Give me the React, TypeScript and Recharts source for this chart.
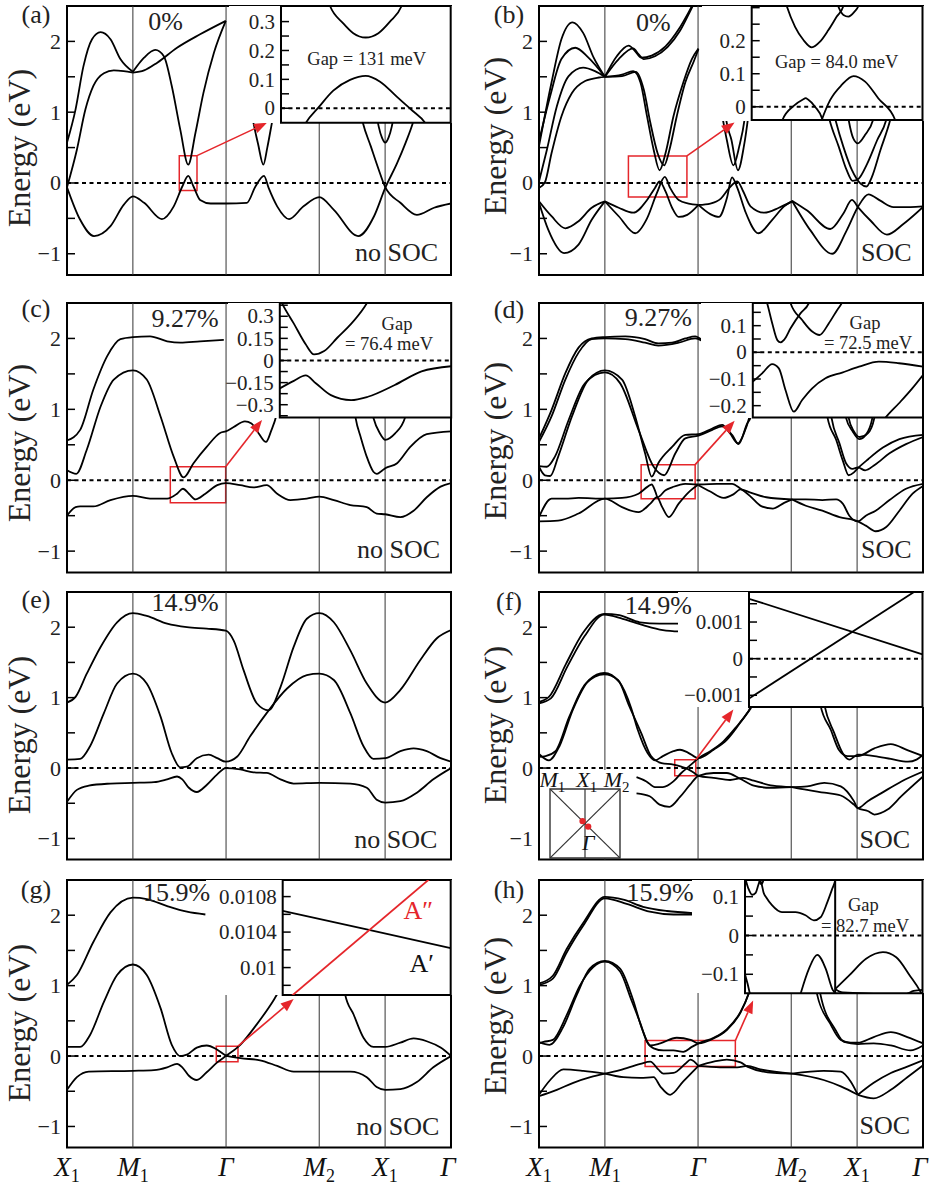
import React from 'react';
import { LineChart, Line, XAxis, YAxis, ReferenceLine, ReferenceArea, ReferenceDot } from 'recharts';

type Pt = [number, number];

const SERIF = '"Liberation Serif", "Times New Roman", "DejaVu Serif", serif';
const RED = '#e5262b';

// ---------- k-path and energy axes ----------
const K_TICKS = [0, 1, 2.414, 3.828, 4.828, 5.828];
const K_NAMES = ['X', 'M', 'Γ', 'M', 'X', 'Γ'];
const K_SUBS = ['1', '1', '', '2', '1', ''];
const SYM_K = [1, 2.414, 3.828, 4.828];
const K_MAX = 5.828;
const E_MIN = -1.3;
const E_MAX = 2.5;
const E_TICKS = [-1, -0.5, 0, 0.5, 1, 1.5, 2];
const E_LABELS = ['−1', '', '0', '', '1', '', '2'];

// ---------- (a) 0 %, no SOC ----------
const A_VB1: Pt[] = [[0,-0.06],[0.2,-0.52],[0.41,-0.75],[0.66,-0.61],[0.86,-0.31],[1.0,-0.19],[1.17,-0.28],[1.44,-0.51],[1.62,-0.33],[1.75,-0.05],[1.84,0.10],[1.92,-0.05],[2.02,-0.24],[2.18,-0.29],[2.41,-0.29],[2.73,-0.28],[2.86,-0.05],[2.99,0.10],[3.06,-0.07],[3.19,-0.33],[3.37,-0.51],[3.59,-0.33],[3.83,-0.20],[4.05,-0.38],[4.42,-0.75],[4.66,-0.47],[4.83,-0.07],[5.01,0.28],[5.14,0.57],[5.25,0.85],[5.31,1.05]];
const A_VB2: Pt[] = [[4.43,1.1],[4.49,0.85],[4.61,0.52],[4.73,0.19],[4.83,-0.06],[5.06,-0.28],[5.31,-0.45],[5.57,-0.35],[5.83,-0.29]];
const A_CB1: Pt[] = [[0,0.57],[0.13,1.04],[0.25,1.65],[0.38,2.03],[0.51,2.13],[0.66,2.03],[0.81,1.75],[1.0,1.57]];
const A_CB2: Pt[] = [[0,-0.06],[0.15,0.47],[0.28,1.04],[0.40,1.37],[0.56,1.55],[0.71,1.59],[0.86,1.58],[1.0,1.56]];
const A_CB3: Pt[] = [[1.0,1.57],[1.17,1.77],[1.34,1.88],[1.47,1.79],[1.59,1.37],[1.72,0.75],[1.84,0.26],[1.95,0.71],[2.07,1.27],[2.23,1.84],[2.41,2.29]];
const A_CB4: Pt[] = [[1.0,1.56],[1.17,1.59],[1.37,1.70],[1.67,1.91],[2.02,2.10],[2.41,2.29]];
const A_CB5: Pt[] = [[2.80,1.0],[2.83,0.85],[2.90,0.55],[2.98,0.26],[3.04,0.5],[3.11,0.85],[3.14,1.0]];
const A_CB6: Pt[] = [[4.69,1.0],[4.73,0.8],[4.78,0.64],[4.83,0.57],[4.88,0.64],[4.93,0.8],[4.97,1.0]];
const AI_CB: Pt[] = [[0.27,0.385],[0.289,0.354],[0.367,0.294],[0.426,0.26],[0.499,0.245],[0.574,0.26],[0.642,0.30],[0.711,0.354],[0.73,0.385]];
const AI_VB: Pt[] = [[0.12,-0.08],[0.147,-0.05],[0.22,0.002],[0.308,0.061],[0.407,0.098],[0.499,0.112],[0.584,0.092],[0.682,0.04],[0.770,-0.006],[0.849,-0.05],[0.88,-0.08]];
const AI_TICKS = [0, 0.05, 0.1, 0.15, 0.2, 0.25, 0.3];
const AI_LABELS = ['0', '', '0.1', '', '0.2', '', '0.3'];

// ---------- (b) 0 %, SOC ----------
const B_VB1: Pt[] = [[0,-0.26],[0.19,-0.47],[0.40,-0.64],[0.60,-0.54],[0.80,-0.35],[1.0,-0.26]];
const B_VB2: Pt[] = [[0,-0.28],[0.14,-0.66],[0.38,-0.99],[0.60,-0.87],[0.80,-0.52],[1.0,-0.26]];
const B_VB3: Pt[] = [[1.0,-0.26],[1.21,-0.35],[1.43,-0.42],[1.64,-0.24],[1.76,-0.07],[1.83,0.024],[1.92,-0.12],[2.02,-0.35],[2.12,-0.48],[2.25,-0.45],[2.42,-0.31]];
const B_VB4: Pt[] = [[1.0,-0.26],[1.21,-0.47],[1.46,-0.71],[1.64,-0.50],[1.79,-0.14],[1.91,0.085],[1.99,-0.07],[2.12,-0.24],[2.27,-0.29],[2.42,-0.31]];
const B_VB5: Pt[] = [[2.42,-0.31],[2.60,-0.44],[2.73,-0.48],[2.85,-0.22],[2.93,0.08],[3.01,-0.07],[3.13,-0.40],[3.33,-0.71],[3.54,-0.52],[3.72,-0.33],[3.84,-0.26]];
const B_VB6: Pt[] = [[2.42,-0.31],[2.60,-0.29],[2.76,-0.22],[2.88,-0.08],[3.01,0.024],[3.10,-0.12],[3.21,-0.33],[3.42,-0.42],[3.64,-0.35],[3.84,-0.26]];
const B_VB7: Pt[] = [[3.84,-0.25],[4.07,-0.39],[4.42,-0.65],[4.62,-0.43],[4.75,-0.24],[4.84,-0.34],[5.03,-0.53],[5.28,-0.73],[5.53,-0.58],[5.84,-0.33]];
const B_VB8: Pt[] = [[3.84,-0.25],[4.12,-0.67],[4.45,-1.0],[4.67,-0.67],[4.84,-0.34],[5.0,-0.16],[5.18,-0.25],[5.38,-0.34],[5.64,-0.34],[5.84,-0.33]];
const B_CB1: Pt[] = [[0,0.52],[0.19,1.42],[0.34,2.03],[0.51,2.27],[0.67,2.12],[0.83,1.77],[1.0,1.50]];
const B_CB2: Pt[] = [[0,0.59],[0.17,1.23],[0.34,1.75],[0.55,1.91],[0.75,1.77],[1.0,1.50]];
const B_CB3: Pt[] = [[0,0.02],[0.12,0.47],[0.27,1.08],[0.45,1.51],[0.67,1.63],[0.85,1.58],[1.0,1.50]];
const B_CB4: Pt[] = [[0,-0.07],[0.09,0.01],[0.19,0.42],[0.34,0.94],[0.50,1.27],[0.70,1.44],[0.91,1.49],[1.0,1.50]];
const B_CB5: Pt[] = [[1.0,1.50],[1.18,1.79],[1.36,1.94],[1.46,1.86],[1.55,1.77],[1.71,1.80],[1.92,1.93],[2.12,2.17],[2.27,2.41],[2.35,2.55]];
const B_CB6: Pt[] = [[1.0,1.50],[1.21,1.75],[1.43,1.90],[1.51,1.82],[1.59,1.75],[1.76,1.79],[1.95,1.92],[2.14,2.15],[2.28,2.40],[2.36,2.55]];
const B_CB7: Pt[] = [[1.0,1.50],[1.26,1.53],[1.43,1.58],[1.54,1.42],[1.64,0.94],[1.74,0.47],[1.83,0.18],[1.92,0.42],[2.04,0.94],[2.19,1.42],[2.32,1.75],[2.42,1.90]];
const B_CB8: Pt[] = [[1.0,1.50],[1.26,1.51],[1.47,1.57],[1.59,1.32],[1.69,0.85],[1.80,0.42],[1.90,0.25],[1.98,0.47],[2.09,0.94],[2.22,1.42],[2.35,1.72],[2.42,1.89]];
const B_CB9: Pt[] = [[2.76,1.05],[2.79,0.90],[2.85,0.61],[2.95,0.25],[3.04,0.52],[3.12,0.90],[3.14,1.05]];
const B_CB10: Pt[] = [[2.82,1.05],[2.84,0.90],[2.92,0.61],[3.02,0.18],[3.11,0.52],[3.17,0.90],[3.19,1.05]];
const B_X1: Pt[] = [[4.38,1.0],[4.41,0.89],[4.55,0.51],[4.67,0.18],[4.76,0.03],[4.85,0.06],[4.98,0.27],[5.13,0.6],[5.27,0.89],[5.30,1.0]];
const B_X2: Pt[] = [[4.47,1.0],[4.50,0.89],[4.62,0.51],[4.75,0.18],[4.88,-0.01],[4.97,-0.05],[5.05,0.08],[5.18,0.46],[5.33,0.89],[5.36,1.0]];
const B_X3: Pt[] = [[4.68,1.0],[4.70,0.89],[4.77,0.63],[4.84,0.56],[4.95,0.68],[5.07,0.89],[5.10,1.0]];
const BI_CB1: Pt[] = [[0.19,0.33],[0.205,0.305],[0.254,0.242],[0.303,0.202],[0.352,0.18],[0.40,0.197],[0.449,0.232],[0.498,0.273],[0.537,0.305],[0.55,0.33]];
const BI_CB2: Pt[] = [[0.49,0.33],[0.51,0.3],[0.537,0.278],[0.566,0.273],[0.602,0.288],[0.625,0.305],[0.64,0.33]];
const BI_VB1: Pt[] = [[0.16,-0.07],[0.18,-0.04],[0.244,0.002],[0.30,0.022],[0.316,0.026],[0.33,0.022],[0.371,0.0],[0.414,-0.038],[0.43,-0.07]];
const BI_VB2: Pt[] = [[0.39,-0.07],[0.41,-0.04],[0.459,0.02],[0.527,0.066],[0.596,0.093],[0.664,0.076],[0.742,0.025],[0.84,-0.04],[0.86,-0.07]];
const BI_TICKS = [0, 0.05, 0.1, 0.15, 0.2, 0.25, 0.3];
const BI_LABELS = ['0', '', '0.1', '', '0.2', '', ''];

// ---------- (c) 9.27 %, no SOC ----------
const C_VB: Pt[] = [[0,-0.50],[0.13,-0.38],[0.20,-0.37],[0.40,-0.37],[0.66,-0.28],[1.0,-0.22],[1.26,-0.26],[1.52,-0.26],[1.67,-0.19],[1.76,-0.12],[1.85,-0.19],[1.95,-0.27],[2.10,-0.19],[2.28,-0.07],[2.41,-0.04],[2.63,-0.07],[2.83,-0.10],[3.03,-0.07],[3.19,-0.19],[3.39,-0.28],[3.64,-0.26],[3.83,-0.23],[4.05,-0.28],[4.30,-0.35],[4.55,-0.38],[4.70,-0.47],[4.83,-0.48],[5.06,-0.52],[5.26,-0.43],[5.46,-0.24],[5.67,-0.09],[5.83,-0.04]];
const C_CB1: Pt[] = [[0,0.14],[0.14,0.09],[0.30,0.43],[0.51,1.04],[0.71,1.42],[1.0,1.55],[1.21,1.42],[1.42,0.90],[1.62,0.33],[1.77,0.04],[1.92,0.24],[2.12,0.47],[2.33,0.67],[2.41,0.69],[2.53,0.75],[2.70,0.83],[2.80,0.80],[2.91,0.66],[3.02,0.54],[3.10,0.70],[3.18,0.92],[3.2,1.0]];
const C_CB2: Pt[] = [[0,0.56],[0.20,0.71],[0.40,1.28],[0.61,1.75],[0.81,1.99],[1.0,2.02],[1.26,2.03],[1.52,1.96],[1.72,1.94],[2.02,1.96],[2.38,1.98]];
const C_X1: Pt[] = [[4.36,1.0],[4.38,0.88],[4.46,0.6],[4.55,0.33],[4.65,0.12],[4.70,0.09],[4.76,0.12],[4.83,0.17],[5.01,0.24],[5.21,0.47],[5.46,0.65],[5.83,0.69]];
const C_U: Pt[] = [[4.62,1.0],[4.65,0.88],[4.75,0.66],[4.83,0.57],[4.98,0.66],[5.13,0.88],[5.16,1.0]];
const CI_CB: Pt[] = [[0,0.42],[0.014,0.386],[0.082,0.25],[0.151,0.11],[0.2,0.041],[0.259,0.064],[0.337,0.156],[0.416,0.248],[0.494,0.363],[0.514,0.40]];
const CI_VB: Pt[] = [[0,-0.189],[0.082,-0.138],[0.151,-0.101],[0.21,-0.154],[0.298,-0.235],[0.416,-0.269],[0.514,-0.246],[0.671,-0.166],[0.827,-0.074],[1.0,-0.039]];
const CI_TICKS = [-0.375, -0.3, -0.225, -0.15, -0.075, 0, 0.075, 0.15, 0.225, 0.3, 0.375];
const CI_LABELS = ['', '−0.3', '', '−0.15', '', '0', '', '0.15', '', '0.3', ''];

// ---------- (d) 9.27 %, SOC ----------
const D_VB1: Pt[] = [[0,-0.52],[0.19,-0.26],[0.40,-0.26],[0.60,-0.25],[1.0,-0.26],[1.26,-0.25],[1.51,-0.19],[1.65,-0.09],[1.71,-0.06],[1.77,-0.17],[1.80,-0.24],[1.92,-0.14],[2.02,-0.10],[2.22,-0.05],[2.42,-0.06]];
const D_VB2: Pt[] = [[0,-0.58],[0.29,-0.57],[0.60,-0.47],[1.0,-0.26],[1.26,-0.38],[1.51,-0.45],[1.69,-0.33],[1.79,-0.24],[1.87,-0.38],[1.97,-0.52],[2.12,-0.33],[2.27,-0.17],[2.42,-0.06]];
const D_VB3: Pt[] = [[2.42,-0.06],[2.7,-0.05],[2.93,-0.05],[3.06,-0.12],[3.2,-0.22],[3.38,-0.37],[3.55,-0.40],[3.72,-0.32],[3.84,-0.27]];
const D_VB4: Pt[] = [[2.42,-0.07],[2.6,-0.16],[2.8,-0.25],[2.95,-0.2],[3.06,-0.13],[3.2,-0.17],[3.45,-0.24],[3.84,-0.27]];
const D_VB5: Pt[] = [[3.84,-0.27],[4.05,-0.27],[4.30,-0.28],[4.51,-0.27],[4.61,-0.33],[4.71,-0.50],[4.84,-0.58],[4.96,-0.50],[5.11,-0.43],[5.32,-0.28],[5.57,-0.12],[5.83,-0.05]];
const D_VB6: Pt[] = [[3.84,-0.27],[4.05,-0.36],[4.30,-0.43],[4.56,-0.52],[4.84,-0.58],[4.96,-0.64],[5.11,-0.72],[5.27,-0.66],[5.47,-0.43],[5.67,-0.19],[5.83,-0.08]];
const D_CB1: Pt[] = [[0,0.19],[0.09,0.07],[0.17,0.06],[0.29,0.33],[0.50,0.90],[0.75,1.42],[1.0,1.55],[1.26,1.42],[1.46,0.90],[1.61,0.38],[1.71,0.05],[1.81,0.24],[2.02,0.47],[2.22,0.64],[2.42,0.65],[2.63,0.73],[2.78,0.78],[2.90,0.66],[3.02,0.52],[3.11,0.66],[3.19,0.88],[3.22,1.0]];
const D_CB2: Pt[] = [[0,0.20],[0.12,0.19],[0.24,0.33],[0.45,0.85],[0.70,1.37],[1.0,1.52],[1.23,1.37],[1.51,0.71],[1.74,0.19],[1.90,0.07],[2.07,0.38],[2.22,0.59],[2.42,0.63],[2.63,0.71],[2.78,0.76],[2.93,0.64],[3.03,0.51],[3.16,0.80],[3.21,0.88],[3.24,1.0]];
const D_CB3: Pt[] = [[0,0.59],[0.19,0.99],[0.40,1.51],[0.60,1.87],[0.80,2.0],[1.0,2.02],[1.31,2.03],[1.61,1.99],[1.81,1.93],[2.02,1.94],[2.22,2.0],[2.37,2.03],[2.47,1.98]];
const D_CB4: Pt[] = [[0,0.54],[0.19,0.90],[0.40,1.42],[0.60,1.80],[0.80,1.99],[1.0,2.0],[1.31,1.99],[1.61,1.94],[1.81,1.90],[2.12,1.94],[2.37,2.0],[2.47,1.97]];
const D_X1: Pt[] = [[4.36,1.0],[4.38,0.88],[4.51,0.57],[4.61,0.28],[4.70,0.07],[4.78,0.11],[4.84,0.17],[5.0,0.30],[5.22,0.46],[5.47,0.58],[5.83,0.64]];
const D_X2: Pt[] = [[4.42,1.0],[4.44,0.88],[4.56,0.52],[4.66,0.24],[4.76,0.16],[4.84,0.18],[4.95,0.14],[5.10,0.22],[5.32,0.38],[5.57,0.51],[5.83,0.61]];
const D_XU1: Pt[] = [[4.64,1.0],[4.66,0.88],[4.76,0.69],[4.86,0.58],[4.96,0.64],[5.06,0.88],[5.08,1.0]];
const D_XU2: Pt[] = [[4.68,1.0],[4.70,0.88],[4.78,0.69],[4.87,0.61],[4.99,0.66],[5.09,0.88],[5.11,1.0]];
const DI_CB1: Pt[] = [[0.07,0.21],[0.084,0.184],[0.114,0.109],[0.145,0.045],[0.163,0.0375],[0.185,0.048],[0.222,0.09],[0.28,0.146],[0.329,0.184],[0.345,0.21]];
const DI_CB2: Pt[] = [[0.21,0.21],[0.222,0.184],[0.29,0.121],[0.349,0.078],[0.392,0.065],[0.447,0.109],[0.496,0.159],[0.522,0.184],[0.54,0.21]];
const DI_VB1: Pt[] = [[0,-0.11],[0.055,-0.079],[0.114,-0.044],[0.153,-0.06],[0.192,-0.141],[0.241,-0.2225],[0.29,-0.179],[0.349,-0.135],[0.427,-0.0975],[0.525,-0.076],[0.624,-0.054],[0.741,-0.035],[0.859,-0.041],[1.0,-0.054]];
const DI_VB2: Pt[] = [[0.74,-0.28],[0.78,-0.245],[0.859,-0.191],[0.937,-0.135],[1.0,-0.085]];
const DI_TICKS = [-0.2, -0.15, -0.1, -0.05, 0, 0.05, 0.1, 0.15];
const DI_LABELS = ['−0.2', '', '−0.1', '', '0', '', '0.1', ''];

// ---------- (e) 14.9 %, no SOC ----------
const E_VB: Pt[] = [[0,-0.48],[0.15,-0.31],[0.33,-0.25],[0.66,-0.22],[1.0,-0.21],[1.32,-0.20],[1.52,-0.16],[1.67,-0.12],[1.75,-0.16],[1.85,-0.28],[1.97,-0.34],[2.12,-0.24],[2.28,-0.09],[2.41,0.0],[2.63,-0.02],[2.83,-0.06],[3.03,-0.07],[3.24,-0.16],[3.44,-0.22],[3.83,-0.21],[4.30,-0.22],[4.55,-0.28],[4.70,-0.45],[4.83,-0.49],[5.06,-0.47],[5.31,-0.35],[5.56,-0.16],[5.83,0.0]];
const E_CB1: Pt[] = [[0,0.12],[0.20,0.13],[0.35,0.31],[0.56,0.78],[0.76,1.20],[1.0,1.34],[1.21,1.20],[1.42,0.73],[1.59,0.21],[1.72,0.01],[1.82,0.02],[1.97,0.14],[2.15,0.19],[2.28,0.14],[2.41,0.09],[2.58,0.16],[2.78,0.45],[3.03,0.78],[3.34,1.13],[3.64,1.32],[3.83,1.34],[4.05,1.25],[4.30,0.78],[4.50,0.31],[4.65,0.13],[4.83,0.14],[5.06,0.24],[5.26,0.28],[5.46,0.24],[5.67,0.14],[5.83,0.09]];
const E_CB2: Pt[] = [[0,0.93],[0.13,1.01],[0.30,1.34],[0.51,1.72],[0.76,2.07],[1.0,2.20],[1.21,2.16],[1.52,2.05],[1.82,2.0],[2.12,1.98],[2.41,1.95],[2.53,1.81],[2.68,1.39],[2.88,0.92],[3.06,0.82],[3.24,1.15],[3.44,1.72],[3.64,2.12],[3.83,2.20],[4.05,2.07],[4.30,1.67],[4.55,1.20],[4.83,0.93],[5.06,1.11],[5.36,1.53],[5.61,1.84],[5.83,1.96]];

// ---------- (f) 14.9 %, SOC ----------
const F_UB1: Pt[] = [[0,0.94],[0.15,1.01],[0.41,1.48],[0.66,1.91],[0.99,2.19],[1.22,2.17],[1.53,2.07],[1.83,2.05],[2.14,2.05]];
const F_UB2: Pt[] = [[0,0.92],[0.18,0.99],[0.43,1.44],[0.69,1.87],[0.99,2.18],[1.27,2.12],[1.58,2.03],[1.88,1.96],[2.14,1.94]];
const F_CB1: Pt[] = [[0,0.20],[0.15,0.11],[0.31,0.31],[0.51,0.82],[0.76,1.25],[0.99,1.35],[1.22,1.22],[1.40,0.85],[1.50,0.54],[1.65,0.21],[1.76,0.11],[1.88,0.17],[2.04,0.24],[2.14,0.26],[2.26,0.22],[2.42,0.14],[2.65,0.26],[2.85,0.40],[3.05,0.64],[3.23,0.90],[3.27,1.0]];
const F_CB2: Pt[] = [[0,0.16],[0.10,0.17],[0.25,0.24],[0.46,0.73],[0.71,1.20],[0.99,1.33],[1.20,1.25],[1.36,0.90],[1.55,0.50],[1.70,0.17],[1.86,0.07],[2.04,0.05],[2.16,0.02],[2.24,-0.005],[2.34,-0.06],[2.42,-0.11],[2.65,-0.14],[2.90,-0.17],[3.10,-0.14],[3.26,-0.18],[3.55,-0.25],[3.84,-0.27]];
const F_VB1: Pt[] = [[1.48,-0.13],[1.63,-0.19],[1.76,-0.27],[1.88,-0.27],[2.04,-0.19],[2.16,-0.07],[2.24,-0.005],[2.32,0.06],[2.42,0.14],[2.60,0.24],[2.80,0.38],[3.00,0.59],[3.16,0.78],[3.23,0.88],[3.27,1.0]];
const F_VB2: Pt[] = [[1.48,-0.36],[1.68,-0.40],[1.83,-0.52],[1.98,-0.55],[2.14,-0.41],[2.29,-0.24],[2.42,-0.11],[2.65,-0.07],[2.85,-0.07],[3.05,-0.15],[3.26,-0.25],[3.51,-0.28],[3.84,-0.27]];
const F_VB3: Pt[] = [[3.84,-0.27],[4.07,-0.31],[4.33,-0.35],[4.58,-0.39],[4.78,-0.52],[4.84,-0.57],[4.99,-0.61],[5.09,-0.66],[5.29,-0.59],[5.50,-0.40],[5.83,-0.12]];
const F_VB4: Pt[] = [[3.84,-0.27],[4.07,-0.26],[4.33,-0.21],[4.58,-0.26],[4.78,-0.47],[4.84,-0.57],[4.99,-0.47],[5.19,-0.36],[5.50,-0.19],[5.83,-0.05]];
const F_X1: Pt[] = [[4.25,1.0],[4.27,0.90],[4.43,0.54],[4.55,0.26],[4.68,0.17],[4.84,0.17],[5.09,0.28],[5.34,0.34],[5.60,0.25],[5.83,0.17]];
const F_X2: Pt[] = [[4.31,1.0],[4.33,0.90],[4.48,0.50],[4.61,0.21],[4.71,0.12],[4.84,0.19],[5.09,0.17],[5.34,0.13],[5.60,0.09],[5.73,0.12],[5.83,0.19]];
const FI_L1: Pt[] = [[0,0.001636],[1,0.000118]];
const FI_L2: Pt[] = [[0,-0.00109],[0.951,0.00182]];
const FI_TICKS = [-0.001, -0.0005, 0, 0.0005, 0.001, 0.0015];
const FI_LABELS = ['−0.001', '', '0', '', '0.001', ''];
const BZ_DIAG1: Pt[] = [[-1,-1],[1,1]];
const BZ_DIAG2: Pt[] = [[-1,1],[1,-1]];
const BZ_DOTS: Pt[] = [[-0.07,0.07],[0.09,-0.09]];

// ---------- (g) 15.9 %, no SOC ----------
const G_VB: Pt[] = [[0,-0.48],[0.15,-0.30],[0.33,-0.22],[1.0,-0.21],[1.32,-0.20],[1.52,-0.16],[1.67,-0.11],[1.75,-0.16],[1.85,-0.28],[1.97,-0.34],[2.12,-0.23],[2.28,-0.09],[2.41,0.0],[2.63,0.16],[2.88,0.45],[3.14,0.80],[3.24,0.96]];
const G_CB1: Pt[] = [[0,0.13],[0.20,0.13],[0.35,0.30],[0.56,0.77],[0.76,1.15],[1.0,1.30],[1.21,1.15],[1.42,0.68],[1.59,0.16],[1.72,0.0],[1.82,0.02],[1.97,0.12],[2.12,0.15],[2.28,0.09],[2.41,0.01],[2.63,-0.03],[2.93,-0.06],[3.19,-0.14],[3.44,-0.22],[3.83,-0.22],[4.30,-0.22],[4.55,-0.30],[4.70,-0.44],[4.83,-0.48],[5.06,-0.47],[5.31,-0.37],[5.56,-0.16],[5.83,0.0]];
const G_CB2: Pt[] = [[0,1.01],[0.15,1.15],[0.40,1.62],[0.66,2.04],[1.0,2.25],[1.21,2.23],[1.52,2.13],[1.82,2.05],[2.10,2.01]];
const G_X: Pt[] = [[4.20,1.0],[4.22,0.88],[4.35,0.59],[4.50,0.26],[4.65,0.13],[4.83,0.13],[5.06,0.19],[5.26,0.25],[5.46,0.21],[5.67,0.12],[5.83,0.0]];
const GI_A1: Pt[] = [[0,0.01064],[0.5,0.01043],[1,0.01022]];
const GI_A2: Pt[] = [[0.05,0.009675],[0.9,0.01104]];
const GI_TICKS = [0.0098, 0.01, 0.0102, 0.0104, 0.0106, 0.0108];
const GI_LABELS = ['', '0.01', '', '0.0104', '', '0.0108'];

// ---------- (h) 15.9 %, SOC ----------
const H_UB1: Pt[] = [[0,1.03],[0.21,1.14],[0.42,1.52],[0.67,1.89],[1.0,2.26],[1.28,2.22],[1.58,2.12],[1.94,2.06],[2.34,2.03]];
const H_UB2: Pt[] = [[0,1.01],[0.21,1.10],[0.42,1.47],[0.67,1.85],[1.0,2.24],[1.33,2.16],[1.68,2.05],[2.04,2.01],[2.34,2.01]];
const H_CB1: Pt[] = [[0,0.20],[0.16,0.16],[0.36,0.40],[0.57,0.86],[0.77,1.24],[1.0,1.35],[1.23,1.24],[1.42,0.82],[1.57,0.37],[1.69,0.15],[1.84,0.18],[2.09,0.26],[2.30,0.23],[2.42,0.18],[2.65,0.25],[2.85,0.37],[3.06,0.62],[3.18,0.88],[3.22,1.0]];
const H_CB2: Pt[] = [[0,0.18],[0.07,0.20],[0.21,0.23],[0.42,0.58],[0.62,1.0],[0.82,1.26],[1.0,1.34],[1.23,1.20],[1.40,0.80],[1.54,0.46],[1.64,0.20],[1.74,0.11],[1.89,0.08],[2.04,0.08],[2.19,0.06],[2.32,0.13],[2.42,0.18],[2.65,0.26],[2.85,0.38],[3.06,0.63],[3.18,0.88],[3.22,1.0]];
const H_VB1: Pt[] = [[0,-0.55],[0.17,-0.34],[0.37,-0.19],[0.67,-0.21],[1.0,-0.25]];
const H_VB2: Pt[] = [[0,-0.57],[0.27,-0.48],[0.52,-0.38],[0.78,-0.30],[1.0,-0.25]];
const H_VB3: Pt[] = [[1.0,-0.25],[1.28,-0.30],[1.54,-0.31],[1.74,-0.30],[1.84,-0.43],[1.99,-0.55],[2.19,-0.36],[2.42,-0.14]];
const H_VB4: Pt[] = [[1.0,-0.25],[1.23,-0.20],[1.54,-0.11],[1.69,-0.08],[1.81,-0.19],[1.89,-0.25],[2.04,-0.24],[2.22,-0.11],[2.30,-0.05],[2.42,-0.14]];
const H_VB5: Pt[] = [[2.42,-0.14],[2.65,-0.08],[2.85,-0.05],[3.06,-0.09],[3.16,-0.15],[3.56,-0.24],[3.84,-0.25]];
const H_VB6: Pt[] = [[2.42,-0.14],[2.75,-0.16],[3.01,-0.16],[3.16,-0.14],[3.36,-0.19],[3.84,-0.25]];
const H_VB7: Pt[] = [[3.84,-0.25],[4.32,-0.21],[4.58,-0.22],[4.73,-0.36],[4.84,-0.55]];
const H_VB8: Pt[] = [[3.84,-0.25],[4.32,-0.34],[4.58,-0.43],[4.84,-0.55]];
const H_VB9: Pt[] = [[4.84,-0.55],[5.08,-0.60],[5.34,-0.48],[5.59,-0.30],[5.83,-0.13]];
const H_VB10: Pt[] = [[4.84,-0.55],[5.08,-0.38],[5.34,-0.24],[5.59,-0.15],[5.83,-0.06]];
const H_X1: Pt[] = [[4.20,1.0],[4.22,0.88],[4.42,0.46],[4.58,0.23],[4.73,0.19],[4.84,0.19],[5.08,0.27],[5.34,0.34],[5.59,0.27],[5.83,0.18]];
const H_X2: Pt[] = [[4.25,1.0],[4.27,0.88],[4.50,0.37],[4.63,0.20],[4.84,0.17],[5.08,0.18],[5.34,0.15],[5.64,0.08],[5.83,0.15]];
const HI_CB: Pt[] = [[0,0.15],[0.02,0.12],[0.04,0.105],[0.06,0.11],[0.075,0.13],[0.085,0.142],[0.095,0.13],[0.105,0.11],[0.12,0.098],[0.152,0.078],[0.208,0.06],[0.284,0.06],[0.341,0.052],[0.388,0.039],[0.426,0.047],[0.464,0.086],[0.492,0.121],[0.508,0.142],[0.515,0.16]];
const HI_LOOP: Pt[] = [[0.078,0.15],[0.085,0.135],[0.094,0.132],[0.102,0.14],[0.108,0.15]];
const HI_VB1: Pt[] = [[0.30,-0.17],[0.3125,-0.151],[0.36,-0.086],[0.407,-0.05],[0.455,-0.086],[0.492,-0.138],[0.508,-0.151],[0.52,-0.17]];
const HI_VB2: Pt[] = [[0.508,-0.138],[0.587,-0.103],[0.682,-0.060],[0.777,-0.043],[0.852,-0.056],[0.928,-0.103],[0.985,-0.142],[1.0,-0.155]];
const HI_VB3: Pt[] = [[0.508,-0.138],[0.55,-0.147],[0.9,-0.152],[0.95,-0.143],[1.0,-0.14]];
const HI_VB4: Pt[] = [[0,-0.10],[0.015,-0.125],[0.03,-0.155]];
const HI_TICKS = [-0.1, -0.05, 0, 0.05, 0.1];
const HI_LABELS = ['−0.1', '', '0', '', '0.1'];

// ---------- helpers ----------
const rows = (pts: Pt[]) => pts.map(([k, E]) => ({ k, E }));
const lab = (ticks: number[], labels: string[]) => (v: number) => {
  const i = ticks.findIndex((t) => Math.abs(t - v) < 1e-12);
  return i >= 0 ? labels[i] : '';
};

const makeYTick = (ticks: number[], labels: string[], size: number) => (props: any) => {
  const { x, y, payload } = props;
  const t = lab(ticks, labels)(payload.value);
  if (!t) return <g />;
  return (
    <text x={x} y={y} dy="0.34em" textAnchor="end" fontFamily={SERIF} fontSize={size} fill="#222">{t}</text>
  );
};

const ArrowShape = (props: any) => {
  const { x1, y1, x2, y2 } = props;
  const a = Math.atan2(y2 - y1, x2 - x1);
  const len = 13;
  const half = 5;
  const bx = x2 - len * Math.cos(a);
  const by = y2 - len * Math.sin(a);
  const pts = `${x2},${y2} ${bx + half * Math.sin(a)},${by - half * Math.cos(a)} ${bx - half * Math.sin(a)},${by + half * Math.cos(a)}`;
  return (
    <g>
      <line x1={x1} y1={y1} x2={bx} y2={by} stroke={RED} strokeWidth={1.6} />
      <polygon points={pts} fill={RED} />
    </g>
  );
};

const KTick = (props: any) => {
  const { x, y, payload } = props;
  const i = K_TICKS.findIndex((t) => Math.abs(t - payload.value) < 1e-6);
  const dx = i === K_TICKS.length - 1 ? -3 : 0;
  return (
    <text x={x + dx} y={y + 20} textAnchor="middle" fontFamily={SERIF} fontStyle="italic" fontSize={27} fill="#111">
      {K_NAMES[i]}
      {K_SUBS[i] ? <tspan fontSize={18} fontStyle="normal" dy={6}>{K_SUBS[i]}</tspan> : null}
    </text>
  );
};

interface PanelSpec {
  x: number; y: number; h: number;
  bands: Pt[][];
  bottom?: boolean;
  rect?: [number, number, number, number];
  arrow?: [number, number, number, number];
}

const PW = 384;
const MAIN_YTICK = makeYTick(E_TICKS, E_LABELS, 22);

function BandChart({ p }: { p: PanelSpec }) {
  const L = 58, R = 2, MT = 3, MB = 3;
  const MR = p.bottom ? 14 : 3;
  const B = p.bottom ? 42 : 0;
  const W = L + PW + R + MR;
  const H = MT + p.h + B + MB;
  return (
    <div style={{ position: 'absolute', left: p.x - L, top: p.y - MT }}>
      <LineChart width={W} height={H} margin={{ top: MT, right: MR, bottom: MB, left: 0 }}>
        <XAxis type="number" dataKey="k" domain={[0, K_MAX]} ticks={K_TICKS} interval={0} allowDataOverflow
          hide={!p.bottom} height={p.bottom ? B : 1} axisLine={false} tickLine={false} tick={<KTick />} />
        <YAxis type="number" domain={[E_MIN, E_MAX]} ticks={E_TICKS} interval={0} allowDataOverflow width={L}
          axisLine={false} tickSize={-8} tickMargin={14} tickLine={{ stroke: '#000', strokeWidth: 1.5 }}
          tick={MAIN_YTICK} />
        <YAxis yAxisId="r" orientation="right" type="number" domain={[E_MIN, E_MAX]} ticks={E_TICKS} interval={0}
          allowDataOverflow width={R} axisLine={false} tickSize={-8} tick={false} tickLine={{ stroke: '#000', strokeWidth: 1.5 }} />
        {SYM_K.map((k) => <ReferenceLine key={k} x={k} stroke="#333" strokeWidth={1} />)}
        <ReferenceLine y={0} stroke="#000" strokeWidth={2} strokeDasharray="4 3.5" />
        {p.bands.map((b, i) => (
          <Line key={i} data={rows(b)} dataKey="E" type="monotone" stroke="#000" strokeWidth={1.8}
            dot={false} activeDot={false} isAnimationActive={false} />
        ))}
        <ReferenceArea x1={0} x2={K_MAX} y1={E_MIN} y2={E_MAX} fill="none" fillOpacity={0} stroke="#000" strokeWidth={2} />
        {p.rect ? (
          <ReferenceArea x1={p.rect[0]} x2={p.rect[1]} y1={p.rect[2]} y2={p.rect[3]} fill="none" fillOpacity={0} stroke={RED} strokeWidth={1.5} />
        ) : null}
        {p.arrow ? (
          <ReferenceLine segment={[{ x: p.arrow[0], y: p.arrow[1] }, { x: p.arrow[2], y: p.arrow[3] }]} stroke={RED} shape={ArrowShape} />
        ) : null}
      </LineChart>
    </div>
  );
}

interface InsetSpec {
  box: [number, number, number, number];
  frame: [number, number, number, number];
  domain: [number, number];
  ticks: number[]; labels: string[];
  curves: { pts: Pt[]; color?: string; linear?: boolean }[];
  zero?: boolean; vline?: number;
}

function InsetChart({ s }: { s: InsetSpec }) {
  const [bl, bt, br, bb] = s.box;
  const [fl, ft, fr, fb] = s.frame;
  const cl = bl - 48;
  const L = fl - cl;
  const R = 2;
  const W = L + (fr - fl) + R + 3;
  const H = 2 + (fb - ft) + 3;
  const tick = makeYTick(s.ticks, s.labels, 21);
  return (
    <>
      <div style={{ position: 'absolute', left: bl, top: bt, width: br - bl, height: bb - bt, background: '#fff' }} />
      <div style={{ position: 'absolute', left: cl, top: ft - 2 }}>
        <LineChart width={W} height={H} margin={{ top: 2, right: 3, bottom: 3, left: 0 }}>
          <XAxis type="number" dataKey="k" domain={[0, 1]} hide allowDataOverflow />
          <YAxis type="number" domain={s.domain} ticks={s.ticks} interval={0} allowDataOverflow width={L}
            axisLine={false} tickSize={-8} tickMargin={14} tickLine={{ stroke: '#000', strokeWidth: 1.5 }}
            tick={tick} />
          <YAxis yAxisId="r" orientation="right" type="number" domain={s.domain} ticks={s.ticks} interval={0}
            allowDataOverflow width={R} axisLine={false} tickSize={-8} tick={false} tickLine={{ stroke: '#000', strokeWidth: 1.5 }} />
          {s.zero ? <ReferenceLine y={0} stroke="#000" strokeWidth={2} strokeDasharray="4 3.5" /> : null}
          {s.vline !== undefined ? <ReferenceLine x={s.vline} stroke="#000" strokeWidth={2} /> : null}
          {s.curves.map((c, i) => (
            <Line key={i} data={rows(c.pts)} dataKey="E" type={c.linear ? 'linear' : 'monotone'} stroke={c.color || '#000'}
              strokeWidth={1.8} dot={false} activeDot={false} isAnimationActive={false} />
          ))}
          <ReferenceArea x1={0} x2={1} y1={s.domain[0]} y2={s.domain[1]} fill="none" fillOpacity={0} stroke="#000" strokeWidth={2} />
        </LineChart>
      </div>
    </>
  );
}

function BZChart() {
  return (
    <>
      <div style={{ position: 'absolute', left: 540, top: 770, width: 96, height: 88, background: '#fff' }} />
      <div style={{ position: 'absolute', left: 548, top: 787.3 }}>
        <LineChart width={74} height={73} margin={{ top: 2, right: 2, bottom: 2, left: 2 }}>
          <XAxis type="number" dataKey="k" domain={[-1, 1]} hide allowDataOverflow />
          <YAxis type="number" domain={[-1, 1]} hide allowDataOverflow />
          <ReferenceLine x={0} stroke="#333" strokeWidth={1.2} />
          <Line data={rows(BZ_DIAG1)} dataKey="E" type="linear" stroke="#333" strokeWidth={1.2} dot={false} activeDot={false} isAnimationActive={false} />
          <Line data={rows(BZ_DIAG2)} dataKey="E" type="linear" stroke="#333" strokeWidth={1.2} dot={false} activeDot={false} isAnimationActive={false} />
          <ReferenceArea x1={-1} x2={1} y1={-1} y2={1} fill="none" fillOpacity={0} stroke="#333" strokeWidth={1.4} />
          {BZ_DOTS.map(([x, y], i) => <ReferenceDot key={i} x={x} y={y} r={3.2} fill={RED} stroke="none" />)}
        </LineChart>
      </div>
    </>
  );
}

// ---------- panels ----------
const LX = 66.7;
const RX = 538.5;
const ROW_Y = [6, 303.3, 591.7, 879.7];
const ROW_H = [269, 269.4, 267.6, 267.6];

const PANELS: PanelSpec[] = [
  { x: LX, y: ROW_Y[0], h: ROW_H[0], bands: [A_VB1, A_VB2, A_CB1, A_CB2, A_CB3, A_CB4, A_CB5, A_CB6], rect: [1.704, 1.973, -0.105, 0.386], arrow: [1.973, 0.386, 3.035, 0.849] },
  { x: RX, y: ROW_Y[0], h: ROW_H[0], bands: [B_VB1, B_VB2, B_VB3, B_VB4, B_VB5, B_VB6, B_VB7, B_VB8, B_CB1, B_CB2, B_CB3, B_CB4, B_CB5, B_CB6, B_CB7, B_CB8, B_CB9, B_CB10, B_X1, B_X2, B_X3], rect: [1.357, 2.245, -0.198, 0.382], arrow: [2.245, 0.382, 2.968, 0.855] },
  { x: LX, y: ROW_Y[1], h: ROW_H[1], bands: [C_VB, C_CB1, C_CB2, C_X1, C_U], rect: [1.568, 2.408, -0.316, 0.189], arrow: [2.408, 0.189, 2.96, 0.85] },
  { x: RX, y: ROW_Y[1], h: ROW_H[1], bands: [D_VB1, D_VB2, D_VB3, D_VB4, D_VB5, D_VB6, D_CB1, D_CB2, D_CB3, D_CB4, D_X1, D_X2, D_XU1, D_XU2], rect: [1.55, 2.37, -0.26, 0.22], arrow: [2.37, 0.22, 2.97, 0.84] },
  { x: LX, y: ROW_Y[2], h: ROW_H[2], bands: [E_VB, E_CB1, E_CB2] },
  { x: RX, y: ROW_Y[2], h: ROW_H[2], bands: [F_UB1, F_UB2, F_CB1, F_CB2, F_VB1, F_VB2, F_VB3, F_VB4, F_X1, F_X2], rect: [2.06, 2.38, -0.11, 0.117], arrow: [2.38, 0.117, 2.95, 0.83] },
  { x: LX, y: ROW_Y[3], h: ROW_H[3], bands: [G_VB, G_CB1, G_CB2, G_X], bottom: true, rect: [2.266, 2.595, -0.08, 0.14], arrow: [2.595, 0.14, 3.44, 0.81] },
  { x: RX, y: ROW_Y[3], h: ROW_H[3], bands: [H_UB1, H_UB2, H_CB1, H_CB2, H_VB1, H_VB2, H_VB3, H_VB4, H_VB5, H_VB6, H_VB7, H_VB8, H_VB9, H_VB10, H_X1, H_X2], bottom: true, rect: [1.61, 2.98, -0.15, 0.22], arrow: [2.98, 0.22, 3.25, 0.79] },
];

const INSETS: InsetSpec[] = [
  { box: [229, 6, 451.5, 123], frame: [281, 6, 450.7, 122.7], domain: [-0.05, 0.354], ticks: AI_TICKS, labels: AI_LABELS, curves: [{ pts: AI_CB }, { pts: AI_VB }], zero: true },
  { box: [702, 6, 923.5, 120.5], frame: [751.7, 6, 922.5, 120], domain: [-0.04, 0.305], ticks: BI_TICKS, labels: BI_LABELS, curves: [{ pts: BI_CB1 }, { pts: BI_CB2 }, { pts: BI_VB1 }, { pts: BI_VB2 }], zero: true },
  { box: [227.5, 303.3, 451.5, 418], frame: [279.3, 303.3, 450.7, 417.7], domain: [-0.386, 0.39], ticks: CI_TICKS, labels: CI_LABELS, curves: [{ pts: CI_CB }, { pts: CI_VB }], zero: true },
  { box: [700.5, 303.3, 923.5, 418], frame: [752.3, 303.3, 922.5, 417.7], domain: [-0.244, 0.185], ticks: DI_TICKS, labels: DI_LABELS, curves: [{ pts: DI_CB1 }, { pts: DI_CB2 }, { pts: DI_VB1 }, { pts: DI_VB2 }], zero: true },
  { box: [678, 591.7, 923.5, 707], frame: [749, 591.7, 922.5, 706.7], domain: [-0.00132, 0.00182], ticks: FI_TICKS, labels: FI_LABELS, curves: [{ pts: FI_L1, linear: true }, { pts: FI_L2, linear: true }], zero: true },
  { box: [206, 879.7, 451.5, 995], frame: [282.7, 879.7, 450.7, 994.7], domain: [0.009691, 0.010987], ticks: GI_TICKS, labels: GI_LABELS, curves: [{ pts: GI_A1, linear: true }, { pts: GI_A2, linear: true, color: RED }] },
  { box: [692, 879.7, 923.5, 993.5], frame: [745, 879.7, 922.5, 993], domain: [-0.149, 0.143], ticks: HI_TICKS, labels: HI_LABELS, curves: [{ pts: HI_CB }, { pts: HI_LOOP }, { pts: HI_VB1 }, { pts: HI_VB2 }, { pts: HI_VB3 }, { pts: HI_VB4, linear: true }], zero: true, vline: 0.508 },
];

const TAGS: [string, number, number][] = [['(a)', 36, 15], ['(b)', 509, 15], ['(c)', 36, 308.7], ['(d)', 509, 309.5], ['(e)', 36, 600], ['(f)', 509, 601.7], ['(g)', 36, 890.3], ['(h)', 509, 890.3]];
const STRAINS: [string, number, number][] = [['0%', 165.7, 21.7], ['0%', 653.3, 22.7], ['9.27%', 185, 319.3], ['9.27%', 658.3, 318.3], ['14.9%', 185, 603.3], ['14.9%', 658.3, 606], ['15.9%', 176.7, 893], ['15.9%', 660, 893]];
const SOCS: [string, number, number][] = [['no SOC', 438, 253.3], ['SOC', 911.7, 253.3], ['no SOC', 440, 550], ['SOC', 911.7, 550], ['no SOC', 437.3, 840], ['SOC', 910, 840], ['no SOC', 439.3, 1127.3], ['SOC', 910, 1126.3]];
const YLABS: [number, number][] = [[19, 147.5], [495, 135.7], [19, 443.3], [495, 440.7], [19, 735], [495, 725], [19, 1023], [495, 1016.3]];
const GAPS: [string, number, number][] = [['Gap = 131 meV', 366.7, 59.3], ['Gap = 84.0 meV', 836.7, 61.7], ['Gap', 397, 324], ['= 76.4 meV', 389, 344], ['Gap', 865, 323.3], ['= 72.5 meV', 868, 343.3], ['Gap', 863.3, 905.3], ['= 82.7 meV', 865, 926.3]];

const txt = (x: number, y: number, size: number, right = false, extra: React.CSSProperties = {}): React.CSSProperties => ({
  position: 'absolute', left: x, top: y, transform: right ? 'translate(-100%,-50%)' : 'translate(-50%,-50%)',
  fontFamily: SERIF, fontSize: size, lineHeight: 1, whiteSpace: 'nowrap', color: '#222', ...extra,
});

const BZLabel = ({ x, y, name, sub }: { x: number; y: number; name: string; sub?: string }) => (
  <div style={txt(x, y, 22, false, { fontStyle: 'italic', color: '#111' })}>
    {name}
    {sub ? <span style={{ fontStyle: 'normal', fontSize: 15, position: 'relative', top: 5 }}>{sub}</span> : null}
  </div>
);

export default function App() {
  return (
    <div style={{ position: 'absolute', left: 0, top: 0, width: 930, height: 1188, background: '#fff', overflow: 'hidden' }}>
      {PANELS.map((p, i) => <BandChart key={i} p={p} />)}
      {INSETS.map((s, i) => <InsetChart key={i} s={s} />)}
      <BZChart />
      <BZLabel x={552.3} y={780} name="M" sub="1" />
      <BZLabel x={586.7} y={780} name="X" sub="1" />
      <BZLabel x={616.7} y={780} name="M" sub="2" />
      <BZLabel x={588.3} y={843.3} name="Γ" />
      {TAGS.map(([t, x, y], i) => <div key={'t' + i} style={txt(x, y, 26)}>{t}</div>)}
      {STRAINS.map(([t, x, y], i) => <div key={'s' + i} style={txt(x, y, 26)}>{t}</div>)}
      {SOCS.map(([t, x, y], i) => <div key={'o' + i} style={txt(x, y, 26, true)}>{t}</div>)}
      {GAPS.map(([t, x, y], i) => <div key={'g' + i} style={txt(x, y, 18.5)}>{t}</div>)}
      {YLABS.map(([x, y], i) => (
        <div key={'y' + i} style={{ ...txt(x, y, 32), transform: 'translate(-50%,-50%) rotate(-90deg)' }}>Energy (eV)</div>
      ))}
      <div style={txt(418.3, 910.7, 26, false, { color: RED })}>A″</div>
      <div style={txt(421.7, 964, 26, false, { color: '#111' })}>A′</div>
    </div>
  );
}
